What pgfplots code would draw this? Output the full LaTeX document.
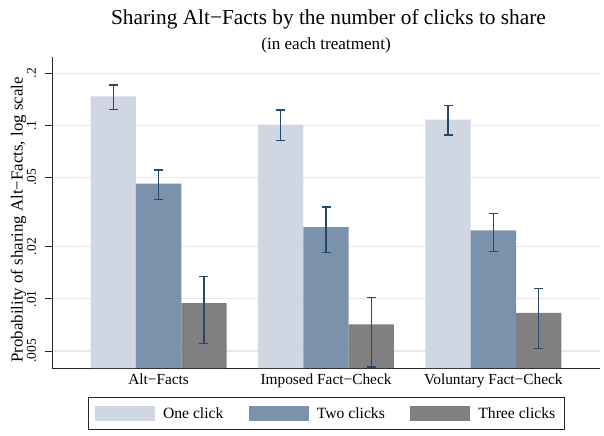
\documentclass[border=0pt]{standalone}
\usepackage{fontspec}
\setmainfont{Liberation Serif}
\usepackage{pgfplots}
\pgfplotsset{compat=1.18}

\definecolor{oneclick}{RGB}{208,215,227}
\definecolor{twoclick}{RGB}{122,146,171}
\definecolor{threeclick}{RGB}{128,128,128}
\definecolor{errbar}{RGB}{40,72,106}
\definecolor{gridgray}{RGB}{232,232,232}

\begin{document}
\begin{tikzpicture}[x=1bp,y=1bp]
\useasboundingbox (-52,-68) rectangle (552,368);
\begin{axis}[
  at={(0,0)}, anchor=south west,
  scale only axis, width=548bp, height=311bp,
  ymode=log, log origin=infty,
  ymin=0.00399, ymax=0.248,
  xmin=-0.637, xmax=2.637,
  ybar=0pt, bar width=45.3bp,
  axis x line*=bottom, axis y line*=left,
  axis line style={-, line width=0.9bp, black!85},
  tick align=outside, major tick length=7bp,
  ytick style={line width=0.8bp, black!85},
  xtick style={draw=none},
  ytick={0.005,0.01,0.02,0.05,0.1,0.2},
  yticklabels={.005,.01,.02,.05,.1,.2},
  yticklabel style={xshift=-9bp, rotate=90, anchor=base, font=\fontsize{13.5}{13.5}\selectfont},
  xtick={0,1,2},
  xticklabels={Alt−Facts, Imposed Fact−Check, Voluntary Fact−Check},
  xticklabel style={yshift=-10bp, anchor=base, font=\fontsize{15.4}{15.4}\selectfont},
  ymajorgrids, grid style={gridgray, line width=1.1bp},
  ylabel={Probability of sharing Alt−Facts, log scale},
  ylabel style={at={(axis description cs:-0.0535,0.476)}, anchor=base,
    font=\fontsize{16.9}{16.9}\selectfont},
  legend image code/.code={\fill[#1,draw=none] (0bp,-7.5bp) rectangle (60bp,7.5bp);},
  legend style={at={(axis description cs:0.5,0)}, anchor=north, yshift=-29bp,
    draw=black!85, line width=0.8bp, legend columns=3,
    font=\fontsize{15.7}{15.7}\selectfont,
    /tikz/every even column/.append style={column sep=23.2bp},
    /tikz/every odd column/.append style={column sep=6.3bp},
    inner xsep=6.7bp, inner ysep=8bp},
  error bars/y dir=both, error bars/y explicit,
  error bars/error bar style={draw=errbar, line width=1.3bp},
  error bars/error mark options={rotate=90, draw=errbar, line width=1.3bp, mark size=4.5bp},
]
\addplot[fill=oneclick, draw=none] coordinates {
  (0,0.147)  += (0,0.024)  -= (0,0.0238)
  (1,0.101)  += (0,0.0215) -= (0,0.0191)
  (2,0.108)  += (0,0.0224) -= (0,0.0201)
};
\addplot[fill=twoclick, draw=none] coordinates {
  (0,0.0461) += (0,0.0091) -= (0,0.0087)
  (1,0.0259) += (0,0.0079) -= (0,0.0074)
  (2,0.0248) += (0,0.0061) -= (0,0.00605)
};
\addplot[fill=threeclick, draw=none] coordinates {
  (0,0.00943) += (0,0.00403) -= (0,0.00389)
  (1,0.00711) += (0,0.00303) -= (0,0.00306)
  (2,0.0083)  += (0,0.00313) -= (0,0.00314)
};
\legend{One click, Two clicks, Three clicks}
\end{axis}
\node[anchor=base, font=\fontsize{21.4}{21.4}\selectfont] at (276.5,343)
  {Sharing Alt−Facts by the number of clicks to share};
\node[anchor=base, font=\fontsize{17.2}{17.2}\selectfont] at (274,318)
  {(in each treatment)};
\end{tikzpicture}
\end{document}
